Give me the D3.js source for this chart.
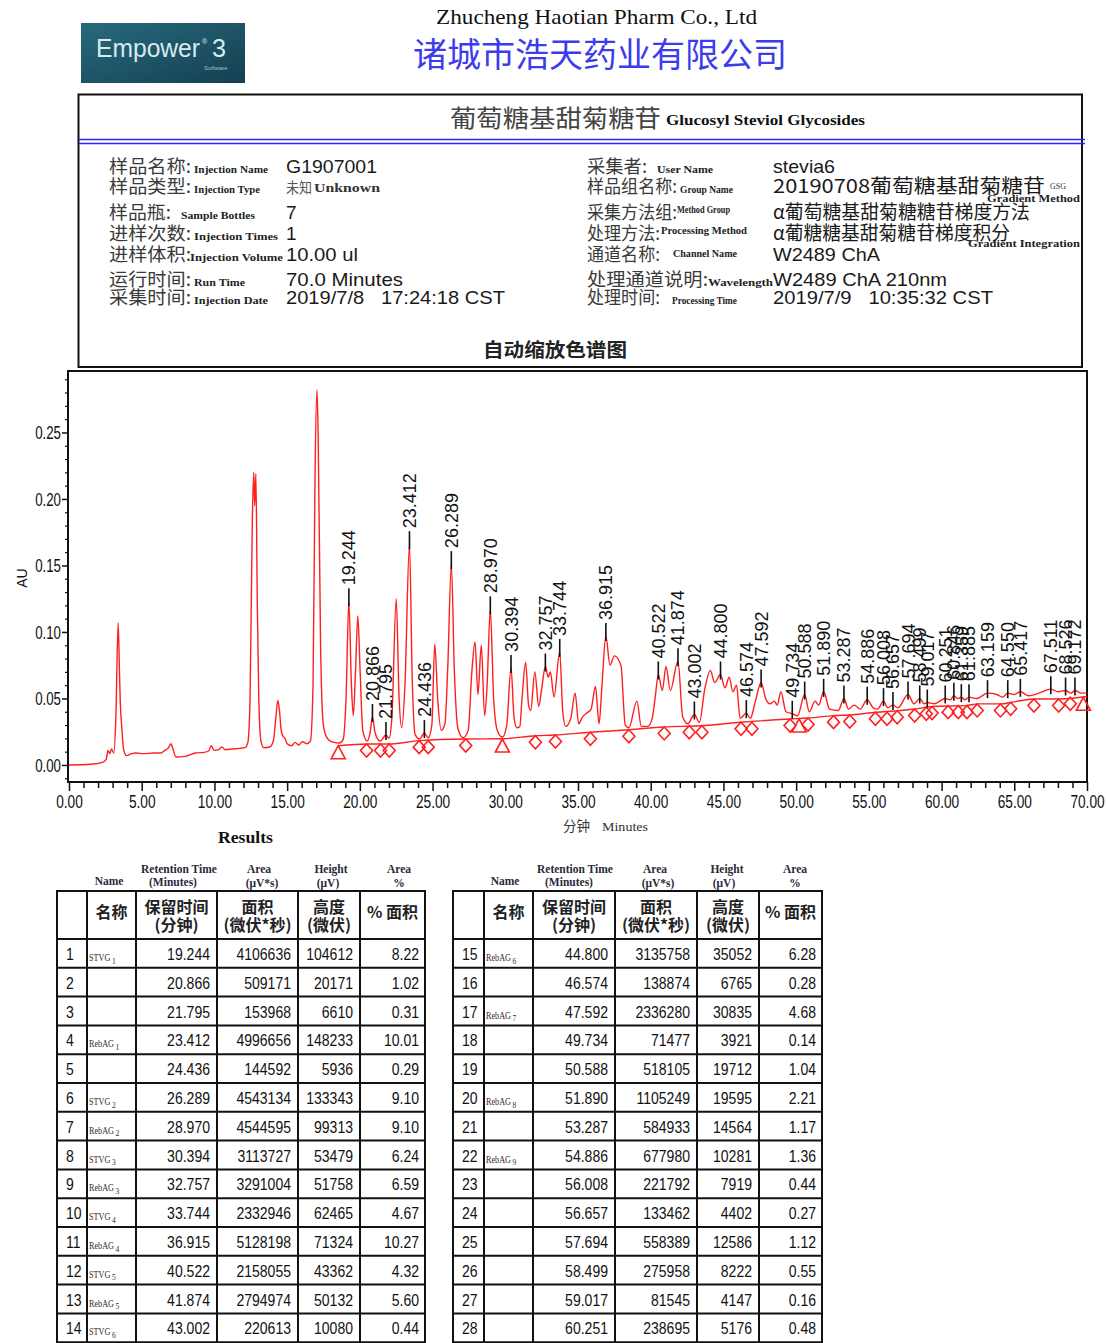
<!DOCTYPE html>
<html><head><meta charset="utf-8">
<script src="https://cdn.jsdelivr.net/npm/d3@7"></script>
<style>
body{margin:0;background:#fff;}
svg{display:block;}
text{white-space:pre;}
</style></head><body>
<svg id="page" width="1107" height="1343"></svg>
<script>
// ---------------- chromatogram data (minutes, AU) ----------------
const xTickValues = [0,5,10,15,20,25,30,35,40,45,50,55,60,65,70];
const yTickValues = [0,0.05,0.10,0.15,0.20,0.25];

const trace = [
 [0,0],[1.5,0.0005],[2.3,0.002],[2.55,0.004],[2.68,0.011],[2.8,0.0085],[2.92,0.012],[3.08,0.009],[3.22,0.035],[3.38,0.107],
 [3.47,0.07],[3.53,0.046],[3.62,0.03],[3.75,0.012],[3.95,0.007],[4.3,0.0085],[4.6,0.009],[5.2,0.0085],[5.8,0.009],[6.3,0.009],
 [6.6,0.011],[6.85,0.013],[7.0,0.016],[7.15,0.012],[7.35,0.006],[8.0,0.0065],[8.7,0.009],[9.3,0.0095],[9.6,0.0105],[9.78,0.0145],
 [9.98,0.011],[10.3,0.0115],[10.5,0.0135],[10.75,0.0115],[11.2,0.012],[11.7,0.0125],[12.1,0.013],[12.3,0.017],[12.45,0.05],[12.6,0.18],
 [12.7,0.220],[12.77,0.195],[12.85,0.219],[12.95,0.12],[13.05,0.05],[13.2,0.018],[13.4,0.013],[13.8,0.0135],[14.05,0.018],[14.22,0.035],
 [14.36,0.0485],[14.48,0.04],[14.58,0.027],[14.7,0.022],[14.85,0.02],[15.0,0.016],[15.3,0.0145],[15.55,0.017],[15.8,0.015],[16.05,0.0175],
 [16.35,0.016],[16.6,0.018],[16.78,0.06],[16.92,0.22],[17.05,0.282],[17.13,0.25],[17.3,0.09],[17.45,0.035],[17.6,0.024],[17.85,0.019],
 [18.2,0.017],[18.6,0.0165],[18.85,0.019],[19.05,0.05],[19.244,0.123],[19.42,0.06],[19.55,0.037],[19.7,0.07],[19.86,0.112],[20.02,0.07],
 [20.2,0.026],[20.5,0.018],[20.7,0.024],[20.866,0.036],[21.05,0.024],[21.4,0.018],[21.795,0.0225],[22.0,0.02],[22.2,0.035],[22.5,0.125],
 [22.7,0.05],[22.88,0.028],[23.1,0.06],[23.412,0.166],[23.6,0.065],[23.8,0.023],[24.1,0.0195],[24.436,0.024],[24.7,0.0205],[24.95,0.03],
 [25.15,0.091],[25.35,0.05],[25.6,0.026],[25.85,0.031],[26.05,0.075],[26.289,0.151],[26.5,0.07],[26.75,0.027],[27.1,0.0205],[27.45,0.026],
 [27.7,0.07],[27.92,0.0925],[28.12,0.053],[28.35,0.09],[28.58,0.037],[28.75,0.06],[28.97,0.117],[29.2,0.05],[29.45,0.026],[29.8,0.021],
 [30.1,0.03],[30.394,0.073],[30.6,0.036],[30.8,0.028],[31.0,0.029],[31.15,0.05],[31.4,0.077],[31.6,0.045],[31.75,0.041],[32.03,0.07],
 [32.3,0.044],[32.5,0.057],[32.757,0.074],[32.95,0.066],[33.1,0.07],[33.35,0.051],[33.744,0.085],[33.95,0.04],[34.15,0.029],[34.5,0.035],
 [34.8,0.054],[35.05,0.031],[35.3,0.036],[35.6,0.039],[35.9,0.042],[36.2,0.059],[36.45,0.031],[36.65,0.06],[36.915,0.097],[37.2,0.075],
 [37.5,0.082],[37.95,0.075],[38.25,0.03],[38.5,0.028],[39.05,0.048],[39.35,0.029],[39.8,0.029],[40.1,0.035],[40.3,0.05],[40.522,0.068],
 [40.8,0.056],[41.05,0.074],[41.35,0.056],[41.874,0.078],[42.2,0.036],[42.55,0.031],[43.002,0.038],[43.35,0.032],[43.7,0.056],[44.1,0.071],
 [44.4,0.062],[44.8,0.068],[45.1,0.058],[45.4,0.066],[45.65,0.055],[45.9,0.06],[46.15,0.035],[46.574,0.039],[46.85,0.035],[47.2,0.048],
 [47.592,0.062],[47.9,0.05],[48.2,0.046],[48.5,0.048],[48.7,0.045],[48.95,0.055],[49.3,0.04],[49.734,0.0385],[50.1,0.037],[50.588,0.053],
 [50.9,0.04],[51.3,0.048],[51.55,0.045],[51.89,0.055],[52.3,0.042],[52.9,0.041],[53.287,0.05],[53.6,0.042],[54.0,0.045],[54.4,0.042],
 [54.886,0.049],[55.3,0.043],[55.6,0.042],[56.008,0.048],[56.3,0.043],[56.657,0.045],[57.0,0.043],[57.694,0.053],[58.1,0.046],[58.499,0.05],
 [58.8,0.046],[59.017,0.047],[59.5,0.046],[60.251,0.05],[60.6,0.049],[60.846,0.052],[61.1,0.05],[61.359,0.051],[61.6,0.049],[61.885,0.051],
 [62.4,0.05],[63.159,0.054],[63.8,0.053],[64.2,0.051],[64.55,0.054],[65.0,0.053],[65.417,0.055],[66.0,0.052],[66.7,0.054],[67.511,0.057],
 [68.0,0.055],[68.526,0.056],[68.9,0.054],[69.172,0.056],[69.6,0.054],[70,0.054]
];

// integration baseline drawn under the peaks
const baselinePts = [
 [18.5,0.0145],[20.5,0.0158],[22.0,0.0158],[24.1,0.0183],[27.3,0.0195],[29.8,0.0197],[32.1,0.022],[33.45,0.0225],
 [35.85,0.0246],[38.5,0.0265],[40.9,0.0286],[43.5,0.0295],[46.2,0.0321],[49.6,0.0346],[50.8,0.0353],[52.6,0.0371],
 [53.7,0.0376],[55.5,0.0396],[57.0,0.0408],[58.2,0.0421],[59.4,0.044],[61.7,0.0446],[62.5,0.0459],[64.1,0.0459],
 [64.8,0.0471],[66.4,0.0496],[68.1,0.0496],[70.0,0.0515]
];

// peak start / end marks: time, baseline level, shape (d = diamond, t = triangle)
const markTime  = [18.51,20.46,21.42,22.02,24.08,24.70,27.28,29.80,32.07,33.45,35.85,38.50,40.93,42.65,43.52,46.21,46.96,
                   49.58,50.20,50.82,52.57,53.69,55.45,56.25,56.95,58.15,58.95,59.35,60.45,61.15,61.75,62.45,64.05,64.75,66.35,68.05,68.85,69.75];
const markLevel = [0.0145,0.0158,0.0158,0.0158,0.0183,0.0183,0.0195,0.0195,0.022,0.0225,0.0246,0.0265,0.0286,0.0295,0.0295,0.0321,0.0321,
                   0.0346,0.0346,0.0353,0.0371,0.0376,0.0396,0.0396,0.0408,0.0421,0.0434,0.044,0.0446,0.0446,0.0446,0.0459,0.0459,0.0471,0.0496,0.0496,0.0509,0.0509];
const markShape = ["t","d","d","d","d","d","d","t","d","d","d","d","d","d","d","d","d",
                   "d","t","d","d","d","d","d","d","d","d","d","d","d","d","d","d","d","d","d","d","t"];

// retention times printed above the peaks
const peakTimes = [19.244,20.866,21.795,23.412,24.436,26.289,28.970,30.394,32.757,33.744,36.915,40.522,41.874,43.002,
                   44.800,46.574,47.592,49.734,50.588,51.890,53.287,54.886,56.008,56.657,57.694,58.499,59.017,60.251,
                   60.846,61.359,61.885,63.159,64.550,65.417,67.511,68.526,69.172];

// ---------------- results table ----------------
const peakNo   = [1,2,3,4,5,6,7,8,9,10,11,12,13,14,15,16,17,18,19,20,21,22,23,24,25,26,27,28];
const nameBase = ["STVG","","","RebAG","","STVG","RebAG","STVG","RebAG","STVG","RebAG","STVG","RebAG","STVG",
                  "RebAG","","RebAG","","","RebAG","","RebAG","","","","","",""];
const nameSub  = ["1","","","1","","2","2","3","3","4","4","5","5","6","6","","7","","","8","","9","","","","","",""];
const retTime  = [19.244,20.866,21.795,23.412,24.436,26.289,28.970,30.394,32.757,33.744,36.915,40.522,41.874,43.002,
                  44.800,46.574,47.592,49.734,50.588,51.890,53.287,54.886,56.008,56.657,57.694,58.499,59.017,60.251];
const areaVal  = [4106636,509171,153968,4996656,144592,4543134,4544595,3113727,3291004,2332946,5128198,2158055,2794974,220613,
                  3135758,138874,2336280,71477,518105,1105249,584933,677980,221792,133462,558389,275958,81545,238695];
const heightVal= [104612,20171,6610,148233,5936,133343,99313,53479,51758,62465,71324,43362,50132,10080,
                  35052,6765,30835,3921,19712,19595,14564,10281,7919,4402,12586,8222,4147,5176];
const areaPct  = [8.22,1.02,0.31,10.01,0.29,9.10,9.10,6.24,6.59,4.67,10.27,4.32,5.60,0.44,
                  6.28,0.28,4.68,0.14,1.04,2.21,1.17,1.36,0.44,0.27,1.12,0.55,0.16,0.48];

// ---------------- report header info ----------------
const infoLeftCN  = ["样品名称:","样品类型:","样品瓶:","进样次数:","进样体积:","运行时间:","采集时间:"];
const infoLeftEN  = ["Injection Name","Injection Type","Sample Bottles","Injection Times","Injection Volume","Run Time","Injection Date"];
const infoLeftVal = ["G1907001","未知","7","1","10.00 ul","70.0 Minutes","2019/7/8   17:24:18 CST"];
const infoRightCN  = ["采集者:","样品组名称:","采集方法组:","处理方法:","通道名称:","处理通道说明:","处理时间:"];
const infoRightEN  = ["User Name","Group Name","Method Group","Processing Method","Channel Name","Wavelength","Processing Time"];
const infoRightVal = ["stevia6","20190708葡萄糖基甜菊糖苷","α葡萄糖基甜菊糖糖苷梯度方法","α葡糖糖基甜菊糖苷梯度积分","W2489 ChA","W2489 ChA 210nm","2019/7/9   10:35:32 CST"];

// ---------------- drawing ----------------
const SANS  = "'Liberation Sans', Arial, sans-serif";
const SERIF = "'Liberation Serif', 'Times New Roman', serif";
const CJK   = "'Noto Sans CJK SC', 'Noto Sans CJK JP', sans-serif";
const RED   = "#ff1f1f";

const svg = d3.select("#page");
svg.append("rect").attr("width",1107).attr("height",1343).attr("fill","#fff");

function fit(sel, len){ return sel.attr("textLength", len).attr("lengthAdjust","spacingAndGlyphs"); }
function condense(sel, k){
  sel.each(function(){
    const w = this.getComputedTextLength();
    if (w > 0) d3.select(this).attr("textLength", w*k).attr("lengthAdjust","spacingAndGlyphs");
  });
  return sel;
}
function txt(g, x, y, s, font, size, opts={}){
  const t = g.append("text").attr("x",x).attr("y",y).text(s)
    .attr("font-family",font).attr("font-size",size).attr("fill",opts.fill||"#111");
  if (opts.weight) t.attr("font-weight",opts.weight);
  if (opts.anchor) t.attr("text-anchor",opts.anchor);
  if (opts.len) fit(t, opts.len);
  return t;
}

// --- logo ---
const defs = svg.append("defs");
const lg = defs.append("linearGradient").attr("id","logoGrad").attr("x1",0).attr("y1",0).attr("x2",1).attr("y2",1);
lg.append("stop").attr("offset",0).attr("stop-color","#276a7c");
lg.append("stop").attr("offset",1).attr("stop-color","#153f52");
svg.append("rect").attr("x",81).attr("y",23).attr("width",164).attr("height",60).attr("fill","url(#logoGrad)");
txt(svg,96,57,"Empower",SANS,25,{fill:"#d6eaf0",len:104});
txt(svg,202,44,"®",SANS,7,{fill:"#d6eaf0"});
txt(svg,212,57,"3",SANS,25,{fill:"#d6eaf0",len:14});
txt(svg,204,70,"Software",SANS,6,{fill:"#9fc6d2"});

// --- company name ---
txt(svg,436,24,"Zhucheng Haotian Pharm Co., Ltd",SERIF,21,{len:321});
txt(svg,413,67,"诸城市浩天药业有限公司",CJK,34,{fill:"#3c3cec",len:374});

// --- info box ---
const box = svg.append("g");
box.append("rect").attr("x",78.5).attr("y",94.5).attr("width",1003.5).attr("height",272.5)
  .attr("fill","none").attr("stroke","#111").attr("stroke-width",2);
[139.5,143.5].forEach(yy => box.append("line").attr("x1",79).attr("x2",1085).attr("y1",yy).attr("y2",yy)
  .attr("stroke","#2626ff").attr("stroke-width",1.6));
txt(box,450,127,"葡萄糖基甜菊糖苷",CJK,24,{fill:"#444",len:211});
txt(box,666,125,"Glucosyl Steviol Glycosides",SERIF,14,{weight:"bold",len:199});

const rowBase = [173,193,219,240,261,286,304];
const leftCnW = [82,82,62,82,82,82,82];
const leftEnX = [194,194,181,194,190,194,194], leftEnW = [74,66,74,84,93,51,74];
const leftValW = [91,26,0,0,72,117,219];
const rightCnW = [60,90,90,73,73,121,73];
const rightEnX = [657,680,677,661,673,708,672], rightEnW = [56,53,53,86,64,65,65], rightEnDy = [0,0,-6,-6,-4,0,0];
const rightValW = [62,272,257,237,107,174,220];

infoLeftCN.forEach((s,i) => {
  txt(box,109,rowBase[i],s,CJK,18.5,{fill:"#3a3a3a",len:leftCnW[i]});
  txt(box,leftEnX[i],rowBase[i],infoLeftEN[i],SERIF,11,{weight:"bold",fill:"#222",len:leftEnW[i]});
  const v = infoLeftVal[i];
  const isCJK = /[\u4e00-\u9fff]/.test(v);
  txt(box,286,rowBase[i],v,isCJK?CJK:SANS,isCJK?15:19,{fill:isCJK?"#555":"#1a1a1a",len:leftValW[i]||null});
});
txt(box,314,rowBase[1]-1,"Unknown",SERIF,12,{weight:"bold",fill:"#333",len:66});

infoRightCN.forEach((s,i) => {
  txt(box,587,rowBase[i],s,CJK,18.5,{fill:"#3a3a3a",len:rightCnW[i]});
  txt(box,rightEnX[i],rowBase[i]+rightEnDy[i],infoRightEN[i],SERIF,11,{weight:"bold",fill:"#222",len:rightEnW[i]});
  const v = infoRightVal[i];
  txt(box,773,rowBase[i],v,/[\u4e00-\u9fff]/.test(v)?CJK:SANS,19,{fill:"#1a1a1a",len:rightValW[i]});
});
txt(box,1050,189,"GSG",SERIF,8,{fill:"#333"});
txt(box,987,202,"Gradient Method",SERIF,11,{weight:"bold",fill:"#222",len:93});
txt(box,968,247,"Gradient Integration",SERIF,11,{weight:"bold",fill:"#222",len:112});
txt(box,483,357,"自动缩放色谱图",CJK,19,{weight:"bold",fill:"#222",len:144});

// --- chromatogram ---
const x = d3.scaleLinear().domain([0,70]).range([69,1087]);
const y = d3.scaleLinear().domain([-0.0128,0.2962]).range([782,371]);
const chart = svg.append("g");

// minor + major ticks on both axes
const xMinor = d3.range(1,70).filter(v => v % 5 !== 0);
chart.append("g").attr("transform","translate(0,782)")
  .call(d3.axisBottom(x).tickValues(xMinor).tickSize(6).tickFormat(""))
  .call(g => g.select(".domain").remove())
  .call(g => g.selectAll("line").attr("stroke","#111").attr("stroke-width",1.5));
const xAxis = chart.append("g").attr("transform","translate(0,782)")
  .call(d3.axisBottom(x).tickValues(xTickValues).tickSize(9).tickPadding(4).tickFormat(d3.format(".2f")))
  .call(g => g.select(".domain").remove())
  .call(g => g.selectAll("line").attr("stroke","#111").attr("stroke-width",1.5));
// narrow, tall tick numerals
xAxis.selectAll("text").attr("font-family",SANS).attr("font-size",19).attr("fill","#111")
  .attr("transform","scale(0.72,1)");

const yMinor = d3.range(-1,30).map(v => v/100).filter(v => Math.round(v*100) % 5 !== 0);
chart.append("g").attr("transform","translate(68,0)")
  .call(d3.axisLeft(y).tickValues(yMinor).tickSize(3).tickFormat(""))
  .call(g => g.select(".domain").remove())
  .call(g => g.selectAll("line").attr("stroke","#111").attr("stroke-width",1.2));
const yAxis = chart.append("g").attr("transform","translate(68,0)")
  .call(d3.axisLeft(y).tickValues(yTickValues).tickSize(6).tickPadding(1).tickFormat(d3.format(".2f")))
  .call(g => g.select(".domain").remove())
  .call(g => g.selectAll("line").attr("stroke","#111").attr("stroke-width",1.5));
yAxis.selectAll("text").attr("font-family",SANS).attr("font-size",19).attr("fill","#111")
  .attr("x",-7/0.7).attr("transform","scale(0.7,1)");

chart.append("rect").attr("x",68).attr("y",371).attr("width",1019).attr("height",411)
  .attr("fill","none").attr("stroke","#111").attr("stroke-width",2);

txt(chart,0,0,"AU",SANS,14).attr("transform","translate(27,578) rotate(-90)").attr("text-anchor","middle");
txt(chart,563,831,"分钟",CJK,14,{fill:"#333",len:27});
txt(chart,602,831,"Minutes",SERIF,12,{fill:"#333",len:46});

const line = d3.line().x(d => x(d[0])).y(d => y(d[1])).curve(d3.curveMonotoneX);
chart.append("path").attr("d", line(baselinePts)).attr("fill","none").attr("stroke",RED).attr("stroke-width",1.4);
chart.append("path").attr("d", line(trace)).attr("fill","none").attr("stroke",RED).attr("stroke-width",1.4)
  .attr("stroke-linejoin","round");

// peak start/end marks hang just below the baseline
markTime.forEach((t,i) => {
  const cx = x(t), top = y(markLevel[i]);
  const p = markShape[i] === "t"
    ? `M${cx},${top} L${cx+7},${top+13} L${cx-7},${top+13} Z`
    : `M${cx},${top} L${cx+6},${top+6.5} L${cx},${top+13} L${cx-6},${top+6.5} Z`;
  chart.append("path").attr("d",p).attr("fill","none").attr("stroke",RED).attr("stroke-width",1.6);
});

// retention-time labels above the apexes
const apexOf = t => {
  let best = trace[0];
  trace.forEach(p => { if (Math.abs(p[0]-t) < Math.abs(best[0]-t)) best = p; });
  return best[1];
};
peakTimes.forEach(t => {
  const px = x(t), py = y(apexOf(t));
  chart.append("line").attr("x1",px).attr("x2",px).attr("y1",py+5).attr("y2",py-13)
    .attr("stroke","#111").attr("stroke-width",1.6);
  chart.append("text").attr("transform",`translate(${px+6.5},${py-16}) rotate(-90)`)
    .attr("font-family",SANS).attr("font-size",18).attr("fill","#111").text(d3.format(".3f")(t));
});

// --- results tables ---
txt(svg,218,843,"Results",SERIF,17,{weight:"bold",len:55});

function drawTable(edges, from, to){
  const g = svg.append("g");
  const x0 = edges[0];
  const rowH = 28.8, top0 = 939;
  // English column captions
  [["Name",52,885],["Retention Time",122,873],["(Minutes)",116,886],["Area",202,873],["(μV*s)",205,887],
   ["Height",274,873],["(μV)",271,887],["Area",342,873],["%",342,887]].forEach(c => {
    txt(g,x0+c[1],c[2],c[0],SERIF,11.5,{weight:"bold",fill:"#2a2a3a",anchor:"middle"});
  });
  // Chinese header row
  const cc = i => (edges[i]+edges[i+1])/2;
  const hdr = {weight:"bold",fill:"#222",anchor:"middle"};
  txt(g,cc(1),918,"名称",CJK,16,hdr);
  txt(g,cc(2),913,"保留时间",CJK,16,hdr); txt(g,cc(2),931,"(分钟)",CJK,16,hdr);
  txt(g,cc(3),913,"面积",CJK,16,hdr);     txt(g,cc(3),931,"(微伏*秒)",CJK,16,hdr);
  txt(g,cc(4),913,"高度",CJK,16,hdr);     txt(g,cc(4),931,"(微伏)",CJK,16,hdr);
  txt(g,cc(5),918,"% 面积",CJK,16,hdr);

  const rows = d3.range(from, to);
  rows.forEach((r,k) => {
    const top = top0 + rowH*k;
    const base = top + 21;
    condense(txt(g,edges[0]+9,base,String(peakNo[r]),SANS,16.5),0.85);
    if (nameBase[r]) {
      // compound name with subscript index, drawn narrow
      const nx = edges[1]+2;
      const b = g.append("text").attr("transform",`translate(${nx},${top+22}) scale(0.78,1)`)
        .attr("font-family",SERIF).attr("font-size",10.5).attr("fill","#3a2a2a").text(nameBase[r]);
      const w = b.node().getComputedTextLength() * 0.78;
      txt(g,nx+w+1.5,top+24.5,nameSub[r],SERIF,7.5,{fill:"#3a2a2a"});
    }
    condense(txt(g,edges[3]-7,base,d3.format(".3f")(retTime[r]),SANS,16.5,{anchor:"end"}),0.85);
    condense(txt(g,edges[4]-7,base,String(areaVal[r]),SANS,16.5,{anchor:"end"}),0.85);
    condense(txt(g,edges[5]-7,base,String(heightVal[r]),SANS,16.5,{anchor:"end"}),0.85);
    condense(txt(g,edges[6]-6,base,d3.format(".2f")(areaPct[r]),SANS,16.5,{anchor:"end"}),0.85);
  });

  // grid
  const ys = [891, top0].concat(rows.map((r,k) => top0 + rowH*(k+1))).filter(v => v < 1343);
  ys.forEach(yy => g.append("line").attr("x1",edges[0]).attr("x2",edges[6]).attr("y1",yy).attr("y2",yy)
    .attr("stroke","#111").attr("stroke-width",2));
  edges.forEach(xx => g.append("line").attr("x1",xx).attr("x2",xx).attr("y1",890).attr("y2",1343)
    .attr("stroke","#111").attr("stroke-width",2));
}
drawTable([57,87,136,217,298,360,425], 0, 14);
drawTable([453,484,533,615,697,759,822], 14, 28);
</script>
</body></html>
